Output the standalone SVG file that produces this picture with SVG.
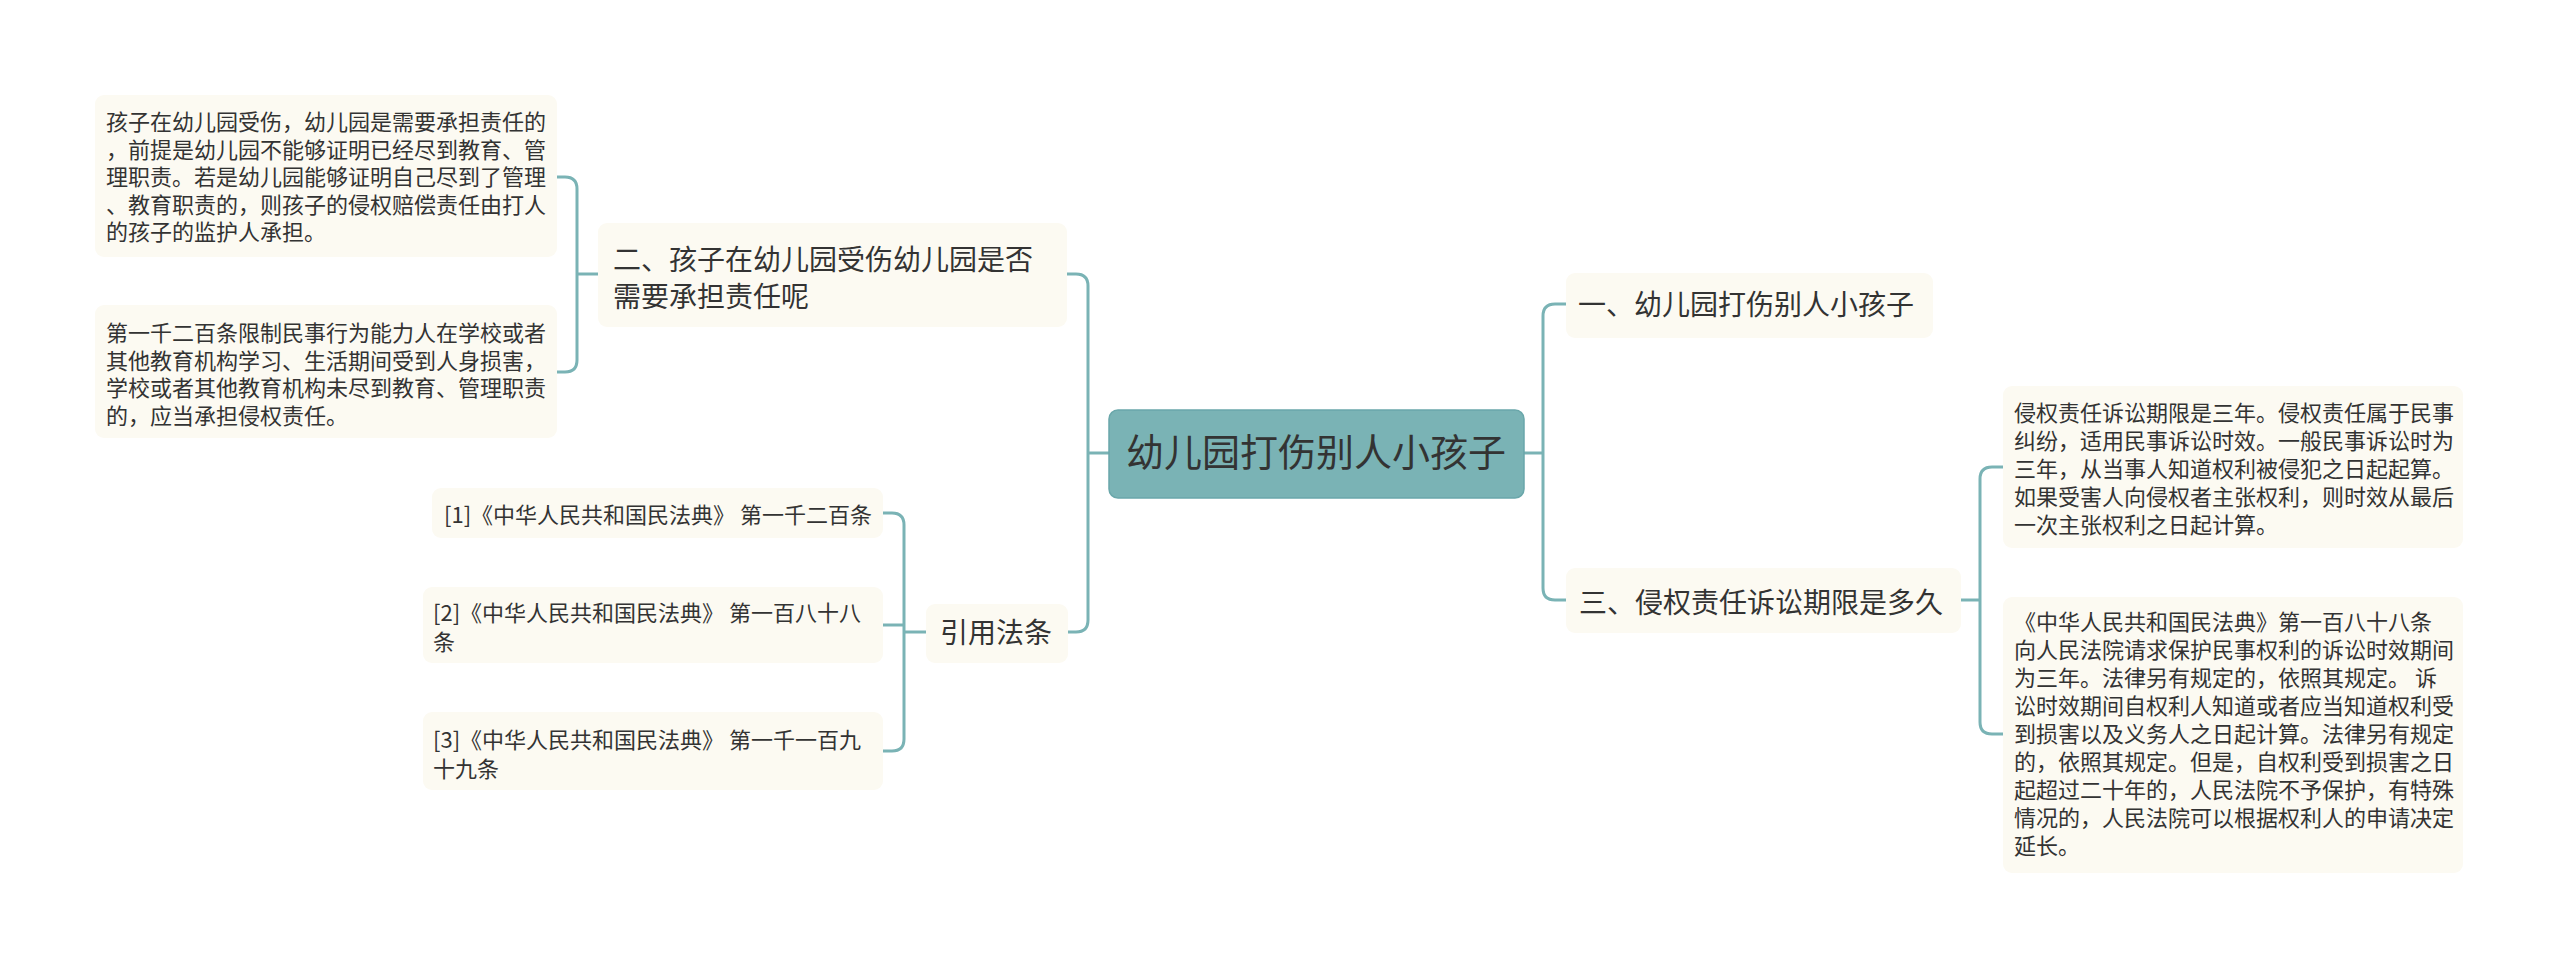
<svg xmlns="http://www.w3.org/2000/svg" width="2560" height="968" viewBox="0 0 2560 968">
<style>
text{font-family:"Noto Sans CJK SC","Noto Sans",sans-serif;fill:#333333}
.box{fill:#fcfaf2}
.root{fill:#7ab3b5;stroke:#6aa7aa;stroke-width:1.5}
.t38{font-size:38px}
.t28{font-size:28px}
.t22{font-size:22px}
.conn path{fill:none;stroke:#7ab3b5;stroke-width:3}
</style>
<rect width="2560" height="968" fill="#ffffff"/>
<g class="conn" id="connectors">
<path d="M1524,453 H1543"/>
<path d="M1566,304 H1555 Q1543,304 1543,316 V588 Q1543,600 1555,600 H1566"/>
<path d="M1961,600 H1980"/>
<path d="M2003,467 H1992 Q1980,467 1980,479 V722 Q1980,734 1992,734 H2003"/>
<path d="M1109,453 H1088"/>
<path d="M1067,274 H1076 Q1088,274 1088,286 V620 Q1088,632 1076,632 H1068"/>
<path d="M598,274 H577"/>
<path d="M557,177 H565 Q577,177 577,189 V360 Q577,372 565,372 H557"/>
<path d="M926,632 H904"/>
<path d="M883,625 H904"/>
<path d="M883,513 H892 Q904,513 904,525 V739 Q904,751 892,751 H883"/>
</g>
<g id="root">
<rect class="root" x="1109" y="410" width="415" height="88" rx="9"/>
<text class="t38" x="1316" y="466" text-anchor="middle">幼儿园打伤别人小孩子</text>
</g>
<g id="n1">
<rect class="box" x="1566" y="273" width="367" height="65" rx="9"/>
<text class="t28" x="1578" y="315">一、幼儿园打伤别人小孩子</text>
</g>
<g id="n3">
<rect class="box" x="1566" y="568" width="395" height="65" rx="9"/>
<text class="t28" x="1579" y="613">三、侵权责任诉讼期限是多久</text>
</g>
<g id="n3a" class="t22">
<rect class="box" x="2003" y="386" width="460" height="162" rx="9"/>
<text x="2014" y="421">侵权责任诉讼期限是三年。侵权责任属于民事</text>
<text x="2014" y="449">纠纷，适用民事诉讼时效。一般民事诉讼时为</text>
<text x="2014" y="477">三年，从当事人知道权利被侵犯之日起起算。</text>
<text x="2014" y="505">如果受害人向侵权者主张权利，则时效从最后</text>
<text x="2014" y="533">一次主张权利之日起计算。</text>
</g>
<g id="n3b" class="t22">
<rect class="box" x="2003" y="597" width="460" height="276" rx="9"/>
<text x="2014" y="630">《中华人民共和国民法典》第一百八十八条</text>
<text x="2014" y="658">向人民法院请求保护民事权利的诉讼时效期间</text>
<text x="2014" y="686">为三年。法律另有规定的，依照其规定。 诉</text>
<text x="2014" y="714">讼时效期间自权利人知道或者应当知道权利受</text>
<text x="2014" y="742">到损害以及义务人之日起计算。法律另有规定</text>
<text x="2014" y="770">的，依照其规定。但是，自权利受到损害之日</text>
<text x="2014" y="798">起超过二十年的，人民法院不予保护，有特殊</text>
<text x="2014" y="826">情况的，人民法院可以根据权利人的申请决定</text>
<text x="2014" y="854">延长。</text>
</g>
<g id="n2">
<rect class="box" x="598" y="223" width="469" height="104" rx="9"/>
<text class="t28" x="613" y="270">二、孩子在幼儿园受伤幼儿园是否</text>
<text class="t28" x="613" y="307">需要承担责任呢</text>
</g>
<g id="n2a" class="t22">
<rect class="box" x="95" y="95" width="462" height="162" rx="9"/>
<text x="106" y="130">孩子在幼儿园受伤，幼儿园是需要承担责任的</text>
<text x="106" y="157.5">，前提是幼儿园不能够证明已经尽到教育、管</text>
<text x="106" y="185">理职责。若是幼儿园能够证明自己尽到了管理</text>
<text x="106" y="212.5">、教育职责的，则孩子的侵权赔偿责任由打人</text>
<text x="106" y="240">的孩子的监护人承担。</text>
</g>
<g id="n2b" class="t22">
<rect class="box" x="95" y="305" width="462" height="133" rx="9"/>
<text x="106" y="341">第一千二百条限制民事行为能力人在学校或者</text>
<text x="106" y="368.5">其他教育机构学习、生活期间受到人身损害，</text>
<text x="106" y="396">学校或者其他教育机构未尽到教育、管理职责</text>
<text x="106" y="423.5">的，应当承担侵权责任。</text>
</g>
<g id="n4">
<rect class="box" x="926" y="604" width="142" height="59" rx="9"/>
<text class="t28" x="940" y="643">引用法条</text>
</g>
<g id="r1" class="t22">
<rect class="box" x="432" y="488" width="451" height="50" rx="9"/>
<text x="444" y="523">[1]《中华人民共和国民法典》 第一千二百条</text>
</g>
<g id="r2" class="t22">
<rect class="box" x="423" y="587" width="460" height="76" rx="9"/>
<text x="433" y="621">[2]《中华人民共和国民法典》 第一百八十八</text>
<text x="433" y="650">条</text>
</g>
<g id="r3" class="t22">
<rect class="box" x="423" y="712" width="460" height="78" rx="9"/>
<text x="433" y="748">[3]《中华人民共和国民法典》 第一千一百九</text>
<text x="433" y="777">十九条</text>
</g>
</svg>
